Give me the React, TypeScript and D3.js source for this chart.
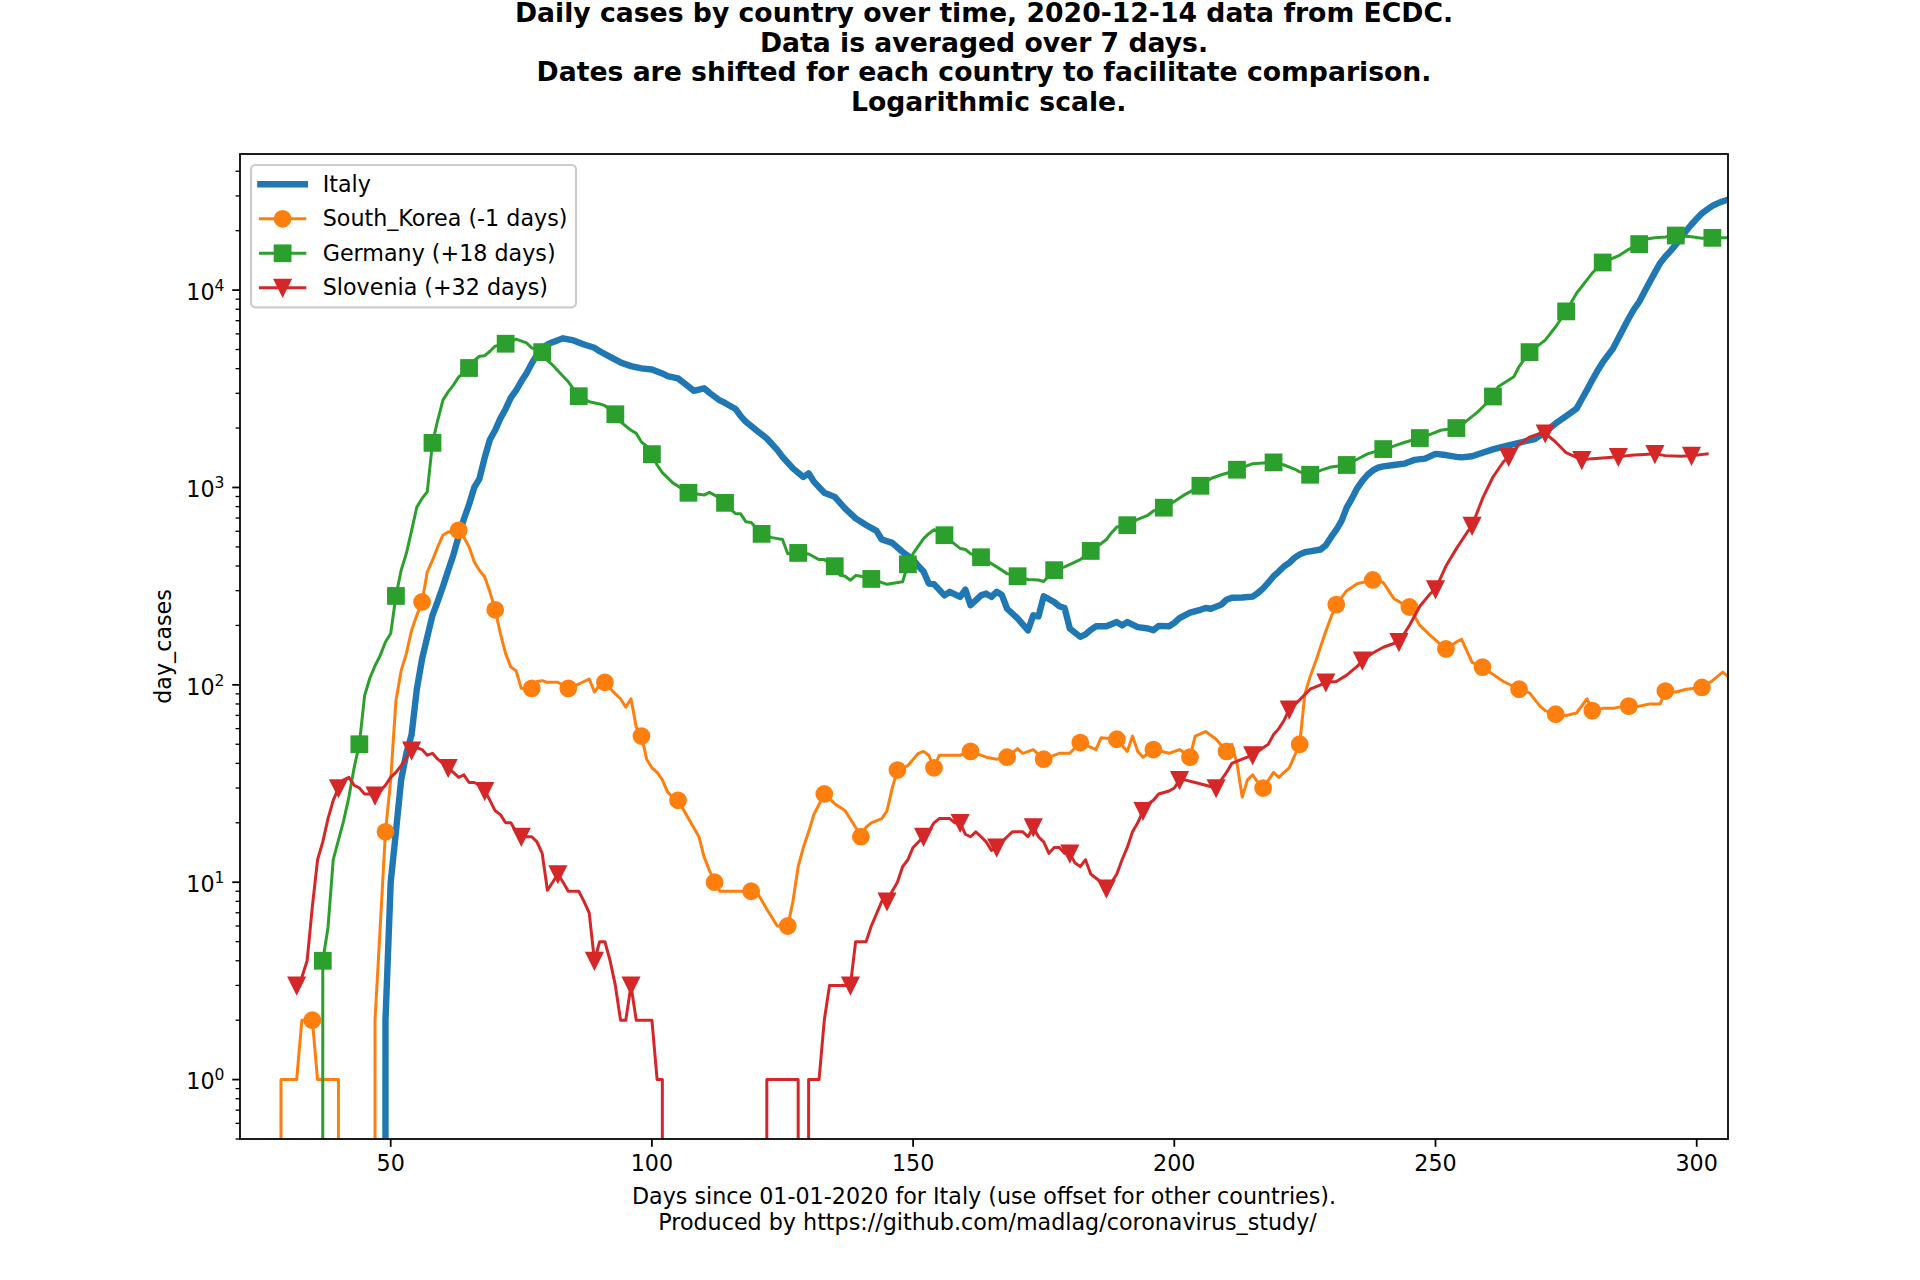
import React, { useEffect } from "react";
import * as d3 from "d3";

type Pt = [number, number];

// ---------- texts ----------
const titleLines = [
  "Daily cases by country over time, 2020-12-14 data from ECDC.",
  "Data is averaged over 7 days.",
  "Dates are shifted for each country to facilitate comparison.",
  " Logarithmic scale.",
];
const xLabelLines = [
  "Days since 01-01-2020 for Italy (use offset for other countries).",
  " Produced by https://github.com/madlag/coronavirus_study/",
];
const yLabel = "day_cases";
const xTicks = [50, 100, 150, 200, 250, 300];
const seriesNames = ["Italy", "South_Korea (-1 days)", "Germany (+18 days)", "Slovenia (+32 days)"];

// ---------- data: [day, cases] ----------
const italy: Pt[] = [
  [48,0],[49,2],[50,10],[51,18],[52,33],[53,45],[54,56],[55,95],[56,135],[57,175],[58,225],[59,265],[60,315],
  [61,380],[62,455],[63,565],[64,690],[65,820],[66,1000],[67,1110],[68,1420],[69,1750],[70,1950],[71,2240],
  [72,2500],[73,2850],[74,3100],[75,3450],[76,3790],[77,4250],[78,4700],[79,5070],[80,5300],[81,5450],[83,5700],
  [85,5560],[87,5300],[89,5100],[90,4900],[92,4590],[94,4300],[96,4120],[98,4010],[100,3960],[102,3780],
  [103,3670],[105,3570],[107,3250],[108,3090],[110,3180],[111,3020],[113,2760],[114,2680],[116,2500],[117,2300],
  [118,2150],[120,1950],[122,1770],[124,1550],[125,1430],[127,1250],[129,1130],[130,1180],[131,1070],[133,940],
  [135,896],[137,782],[139,697],[141,645],[143,603],[144,545],[146,524],[148,471],[150,431],[151,400],[152,375],
  [153,326],[154,324],[156,284],[157,296],[159,279],[160,304],[161,253],[163,284],[164,290],[165,279],[166,296],
  [167,285],[168,243],[170,217],[172,189],[173,225],[174,222],[175,281],[177,263],[178,250],[179,245],[180,193],
  [182,175],[183,180],[184,190],[185,198],[187,198],[189,208],[190,200],[191,208],[193,196],[195,193],[196,189],
  [197,199],[199,198],[200,206],[201,218],[203,232],[205,240],[206,245],[207,243],[209,255],[210,270],[211,276],
  [213,277],[215,280],[216,292],[217,308],[218,330],[219,355],[220,375],[221,398],[222,415],[223,440],[224,458],
  [225,470],[226,475],[228,485],[229,510],[230,560],[231,610],[232,675],[233,790],[234,880],[235,990],[236,1080],
  [237,1160],[238,1220],[239,1260],[240,1280],[242,1300],[244,1320],[245,1350],[246,1380],[248,1400],[250,1480],
  [252,1460],[254,1430],[255,1420],[257,1440],[259,1500],[261,1560],[263,1610],[265,1660],[267,1710],[269,1760],
  [271,1910],[273,2110],[275,2300],[277,2510],[278,2800],[279,3120],[280,3500],[281,3900],[282,4300],[284,5070],
  [285,5700],[286,6400],[287,7200],[288,8000],[289,8730],[290,9800],[291,11000],[292,12300],[293,13700],
  [294,14800],[295,15800],[296,17000],[297,18300],[298,20000],[299,21500],[300,23000],[301,24500],[302,25600],
  [303,26700],[304,27500],[305,28200],[306,28700],
];

const korea: Pt[] = [
  [28,0],[29,1],[30,1],[31,1],[32,1],[33,2],[34,2],[35,2],[36,1],[37,1],[38,1],[39,1],[40,1],[41,0],[42,0],
  [43,0],[44,0],[45,0],[46,0],[47,2],[48,6],[49,18],[50,33],[51,83],[52,118],[53,144],[54,189],[55,225],[56,263],
  [57,373],[58,428],[59,500],[60,573],[61,595],[62,600],[63,607],[64,560],[65,500],[66,420],[67,380],[68,352],
  [69,295],[70,240],[71,182],[72,144],[73,123],[74,118],[75,96],[76,95],[77,96],[78,104],[79,105],[80,103],
  [82,103],[84,96],[86,101],[87,104],[88,107],[89,92],[90,100],[91,103],[92,96],[93,90],[94,85],[95,77],[96,85],
  [97,61],[98,55],[99,42],[100,38],[101,36],[102,33],[103,28.6],[104,27],[105,26],[107,21],[109,17],[110,13.4],
  [111,11.5],[112,10],[113,9],[119,9],[120,9],[122,7.3],[124,6],[126,6],[127,8],[128,12],[129,15],[130,18],
  [131,22],[133,28],[135,25],[137,23],[139,19],[140,17],[141,19],[142,20],[144,21],[145,23],[146,30],[147,37],
  [149,39],[151,45],[152,46],[153,44],[154,38],[155,44],[159,44],[161,46],[164,43],[166,42],[168,43],[170,47.5],
  [171,45],[173,47],[175,42],[178,45],[180,45],[182,51],[185,47],[186,54],[189,53],[191,46],[192,55],[193,46],
  [194,43],[196,47],[199,45],[201,47],[203,43],[204,55],[206,58],[208,53],[210,46],[211,50],[212,40],[213,27],
  [214,33],[215,35],[216,32],[217,30],[219,36],[220,34],[221,36],[222,38],[224,50],[225,90],[226,110],[227,130],
  [229,187],[230,220],[231,255],[233,300],[235,325],[237,335],[238,340],[240,330],[242,274],[244,255],[245,248],
  [247,200],[249,178],[251,160],[252,152],[254,165],[255,170],[257,130],[259,123],[261,113],[263,104],[266,95],
  [268,91],[270,78],[271,74],[273,71],[275,70],[277,72],[279,85],[280,74],[282,76],[284,76],[286,78],[287,78],
  [289,78],[291,80],[293,80],[294,93],[296,92],[298,95],[301,97],[303,105],[305,116],[306,110],
];

const germany: Pt[] = [
  [36,0],[37,4],[38,5.9],[39,13],[41,20.5],[42,27],[43,38],[44,50],[45,88],[46,108],[47,125],[48,141],[49,165],
  [50,182],[51,282],[52,380],[53,464],[54,605],[55,795],[56,880],[57,950],[58,1683],[59,2190],[60,2770],[61,3050],
  [62,3300],[63,3630],[64,3800],[65,4030],[66,4400],[67,4620],[68,4650],[69,4900],[70,5200],[72,5350],[74,5650],
  [76,5400],[77,5100],[79,4850],[80,4400],[81,4170],[82,3900],[84,3430],[86,2900],[88,2720],[90,2650],[91,2600],
  [93,2350],[94,2150],[96,1950],[97,1880],[98,1700],[99,1620],[100,1475],[101,1300],[102,1190],[104,1055],
  [107,940],[110,915],[111,945],[112,915],[114,836],[115,780],[116,738],[117,735],[118,670],[119,665],[121,582],
  [123,557],[125,545],[126,462],[128,466],[130,460],[132,431],[133,431],[135,399],[136,359],[137,355],[138,339],
  [139,358],[140,355],[142,344],[145,323],[148,333],[149,408],[150,462],[152,551],[153,583],[154,611],[156,573],
  [157,541],[159,491],[160,485],[161,462],[163,443],[166,396],[168,366],[170,355],[172,342],[174,340],[175,334],
  [177,381],[179,396],[182,431],[184,477],[186,520],[187,545],[188,590],[189,630],[191,644],[193,690],[195,725],
  [196,760],[198,790],[200,850],[202,920],[203,950],[205,1020],[207,1110],[209,1160],[210,1180],[212,1230],
  [214,1290],[215,1320],[217,1330],[219,1340],[221,1300],[223,1240],[224,1200],[226,1160],[228,1220],[230,1270],
  [233,1300],[235,1390],[237,1480],[240,1565],[242,1620],[244,1690],[247,1780],[249,1860],[251,1950],[254,2000],
  [256,2180],[258,2400],[259,2550],[261,2890],[262,3240],[265,3640],[266,4100],[268,4850],[271,5580],[273,6520],
  [275,7800],[277,9640],[280,12200],[282,13800],[285,14900],[287,16100],[289,17100],[290,18100],[292,18400],
  [294,18600],[296,18900],[299,18650],[301,18300],[303,18400],[306,18400],
];

const slovenia: Pt[] = [
  [32,3],[33,3.3],[34,4],[35,7.5],[36,13],[37,16],[38,21],[39,26],[40,30],[41,33],[42,34],[43,31],[44,30],
  [45,28],[46,28],[47,27.5],[48,29],[49,31],[50,34],[51,36],[52,39],[53,43],[54,46.5],[55,48],[56,47],[57,44],
  [58,45],[59,42],[60,40],[61,38],[62,36],[63,34],[64,35],[65,32],[66,32],[67,31],[68,29],[69,26],[70,23],
  [71,22],[72,20],[73,20],[74,18],[75,17],[77,17],[78,16],[79,14],[80,9.1],[81,10],[82,11],[83,10],[84,9],
  [86,9],[87,8],[88,7],[89,4],[90,5],[91,5],[92,4],[93,3],[94,2],[95,2],[96,3],[97,2],[100,2],[101,1],[102,1],
  [103,0],[121,0],[122,1],[128,1],[129,0],[130,1],[132,1],[133,2],[134,3],[138,3],[139,5],[141,5],[142,6],
  [144,8],[145,8],[146,9],[147,10],[148,12],[149,13],[150,15],[152,17],[153,18],[154,20],[155,21],[157,21],
  [158,20],[159,20],[160,17.5],[161,17],[162,18],[163,17],[164,16],[165,14.5],[166,15],[167,16],[168,17],
  [169,18],[171,18],[172,17],[173,19],[174,17],[175,16],[176,14],[177,15],[178,15],[179,14],[180,14],[181,12.5],
  [182,12],[183,13],[184,11],[186,10],[187,9.3],[188,10],[189,11],[190,13],[191,15],[192,18],[193,20],[194,23],
  [195,25],[196,26],[197,28],[199,29],[200,30],[201,33],[202,33],[204,32],[206,31],[208,30],[209,33],[210,36],
  [211,40],[213,42],[215,44],[217,48],[218,50],[219,56],[220,60],[221,66],[222,75],[224,84],[226,95],[228,100],
  [229,103],[231,104],[233,112],[235,124],[236,133],[238,145],[240,155],[242,162],[243,165],[245,200],[247,250],
  [249,290],[250,305],[252,400],[254,490],[256,590],[257,640],[259,880],[261,1130],[263,1350],[264,1430],
  [266,1650],[268,1800],[270,1880],[271,1880],[273,1700],[275,1500],[277,1420],[278,1380],[280,1400],[282,1410],
  [285,1430],[288,1460],[290,1470],[292,1480],[294,1450],[297,1440],[299,1450],[302,1480],
];

// marker schedules: first point, then every 7th day from a start day
const koreaMarkerStart = 28;
const germanyMarkerStart = 37;
const sloveniaMarkerStart = 40;
const sloveniaExtraMarkerDays = [32];

// ---------- layout ----------
const W = 1920;
const H = 1280;
const PL = 240, PR = 1728, PT = 154, PB = 1139;
const DPI = 160 / 72;
const FS = 10 * DPI; // 22.2px
const colors = ["#1f77b4", "#ff7f0e", "#2ca02c", "#d62728"];

type Series = { name: string; data: Pt[]; color: string; width: number; marker: string | null; markers: Pt[] };

function pickMarkers(data: Pt[], start: number, extra: number[] = []): Pt[] {
  return data.filter(
    (d) => d[1] > 0 && ((d[0] >= start && (d[0] - start) % 7 === 0) || extra.includes(d[0]))
  );
}

function MarkerGlyph({ kind, cx, cy, color }: { kind: string; cx: number; cy: number; color: string }) {
  const s = 7 * DPI; // marker size
  const ew = 1 * DPI;
  if (kind === "o") return <circle cx={cx} cy={cy} r={s / 2} fill={color} stroke={color} strokeWidth={ew} />;
  if (kind === "s")
    return <rect x={cx - s / 2} y={cy - s / 2} width={s} height={s} fill={color} stroke={color} strokeWidth={ew} strokeLinejoin="miter" />;
  const h = s / 2;
  return (
    <path
      d={`M${cx - h},${cy - h}L${cx + h},${cy - h}L${cx},${cy + h}Z`}
      fill={color}
      stroke={color}
      strokeWidth={ew}
      strokeLinejoin="miter"
    />
  );
}

export default function App() {
  useEffect(() => {
    document.body.style.margin = "0";
  }, []);

  const x = d3.scaleLinear().domain([21.153, 305.99]).range([PL, PR]);
  const y = d3.scaleLog().domain([0.5, 48930]).range([PB, PT]);
  const yPix = (v: number) => (v > 0 ? y(v) : PB + 60000);
  const line = d3
    .line<Pt>()
    .x((d) => x(d[0]))
    .y((d) => yPix(d[1]));

  const series: Series[] = [
    { name: seriesNames[0], data: italy, color: colors[0], width: 3 * DPI * 0.96, marker: null, markers: [] },
    { name: seriesNames[1], data: korea, color: colors[1], width: 1.35 * DPI, marker: "o", markers: pickMarkers(korea, koreaMarkerStart) },
    { name: seriesNames[2], data: germany, color: colors[2], width: 1.35 * DPI, marker: "s", markers: pickMarkers(germany, germanyMarkerStart) },
    {
      name: seriesNames[3],
      data: slovenia,
      color: colors[3],
      width: 1.35 * DPI,
      marker: "v",
      markers: pickMarkers(slovenia, sloveniaMarkerStart, sloveniaExtraMarkerDays),
    },
  ];

  const allTicks = y.ticks();
  const majorTicks = allTicks.filter((t) => Math.abs(Math.log10(t) - Math.round(Math.log10(t))) < 1e-9);
  const minorTicks = allTicks.filter((t) => !majorTicks.includes(t));

  const tickLen = 3.5 * DPI;
  const minorLen = 2 * DPI;
  const tickW = 0.8 * DPI;
  const pad = 3.5 * DPI;

  // legend geometry
  const lgX = 251, lgY = 165, lgW = 325, lgH = 142.3;
  const rowY = [184.3, 218.8, 253.3, 287.7];
  const hx0 = 260.4, hx1 = 304.8, tx = 322.7;

  const font = "DejaVu Sans, Liberation Sans, sans-serif";

  return (
    <svg
      width={W}
      height={H}
      viewBox={`0 0 ${W} ${H}`}
      style={{ display: "block", position: "absolute", left: 0, top: 0, background: "#fff" }}
      fontFamily={font}
    >
      <defs>
        <clipPath id="plotArea">
          <rect x={PL} y={PT} width={PR - PL} height={PB - PT} />
        </clipPath>
      </defs>
      <rect x={0} y={0} width={W} height={H} fill="#fff" />

      {/* title */}
      <text textAnchor="middle" fontWeight="bold" fontSize={12 * DPI} fill="#000" style={{ whiteSpace: "pre" }}>
        {titleLines.map((t, i) => (
          <tspan key={i} x={(PL + PR) / 2} y={22 + i * 29.5}>
            {t}
          </tspan>
        ))}
      </text>

      {/* data */}
      <g clipPath="url(#plotArea)">
        {series.map((s, i) => (
          <g key={i}>
            <path
              d={line(s.data) || ""}
              fill="none"
              stroke={s.color}
              strokeWidth={s.width}
              strokeLinejoin="round"
              strokeLinecap="square"
            />
            {s.marker &&
              s.markers.map((m, j) => <MarkerGlyph key={j} kind={s.marker as string} cx={x(m[0])} cy={y(m[1])} color={s.color} />)}
          </g>
        ))}
      </g>

      {/* axes frame */}
      <rect x={PL} y={PT} width={PR - PL} height={PB - PT} fill="none" stroke="#000" strokeWidth={tickW} />

      {/* x ticks */}
      {xTicks.map((t) => (
        <g key={t}>
          <line x1={x(t)} x2={x(t)} y1={PB} y2={PB + tickLen} stroke="#000" strokeWidth={tickW} />
          <text x={x(t)} y={PB + tickLen + pad + 16.7} textAnchor="middle" fontSize={FS} fill="#000">
            {t}
          </text>
        </g>
      ))}

      {/* y ticks */}
      {minorTicks.map((t, i) => (
        <line key={"m" + i} x1={PL} x2={PL - minorLen} y1={y(t)} y2={y(t)} stroke="#000" strokeWidth={0.6 * DPI} />
      ))}
      {majorTicks.map((t) => (
        <g key={t}>
          <line x1={PL} x2={PL - tickLen} y1={y(t)} y2={y(t)} stroke="#000" strokeWidth={tickW} />
          <text x={PL - tickLen - pad} y={y(t) + 9.7} textAnchor="end" fontSize={FS} fill="#000">
            <tspan>10</tspan>
            <tspan fontSize={FS * 0.7} dy={-9}>
              {String(Math.round(Math.log10(t)))}
            </tspan>
          </text>
        </g>
      ))}

      {/* axis labels */}
      <text textAnchor="middle" fontSize={FS} fill="#000" style={{ whiteSpace: "pre" }}>
        {xLabelLines.map((t, i) => (
          <tspan key={i} x={(PL + PR) / 2} y={1204 + i * 25.5}>
            {t}
          </tspan>
        ))}
      </text>
      <text
        transform={`translate(171, ${(PT + PB) / 2}) rotate(-90)`}
        textAnchor="middle"
        fontSize={FS}
        fill="#000"
      >
        {yLabel}
      </text>

      {/* legend */}
      <rect x={lgX} y={lgY} width={lgW} height={lgH} rx={4.5} ry={4.5} fill="#fff" fillOpacity={0.8} stroke="#cccccc" strokeWidth={DPI} />
      {series.map((s, i) => (
        <g key={i}>
          <line x1={hx0} x2={hx1} y1={rowY[i]} y2={rowY[i]} stroke={s.color} strokeWidth={s.width} strokeLinecap="square" />
          {s.marker && <MarkerGlyph kind={s.marker} cx={(hx0 + hx1) / 2} cy={rowY[i]} color={s.color} />}
          <text x={tx} y={rowY[i] + 7.4} fontSize={FS} fill="#000">
            {s.name}
          </text>
        </g>
      ))}
    </svg>
  );
}
